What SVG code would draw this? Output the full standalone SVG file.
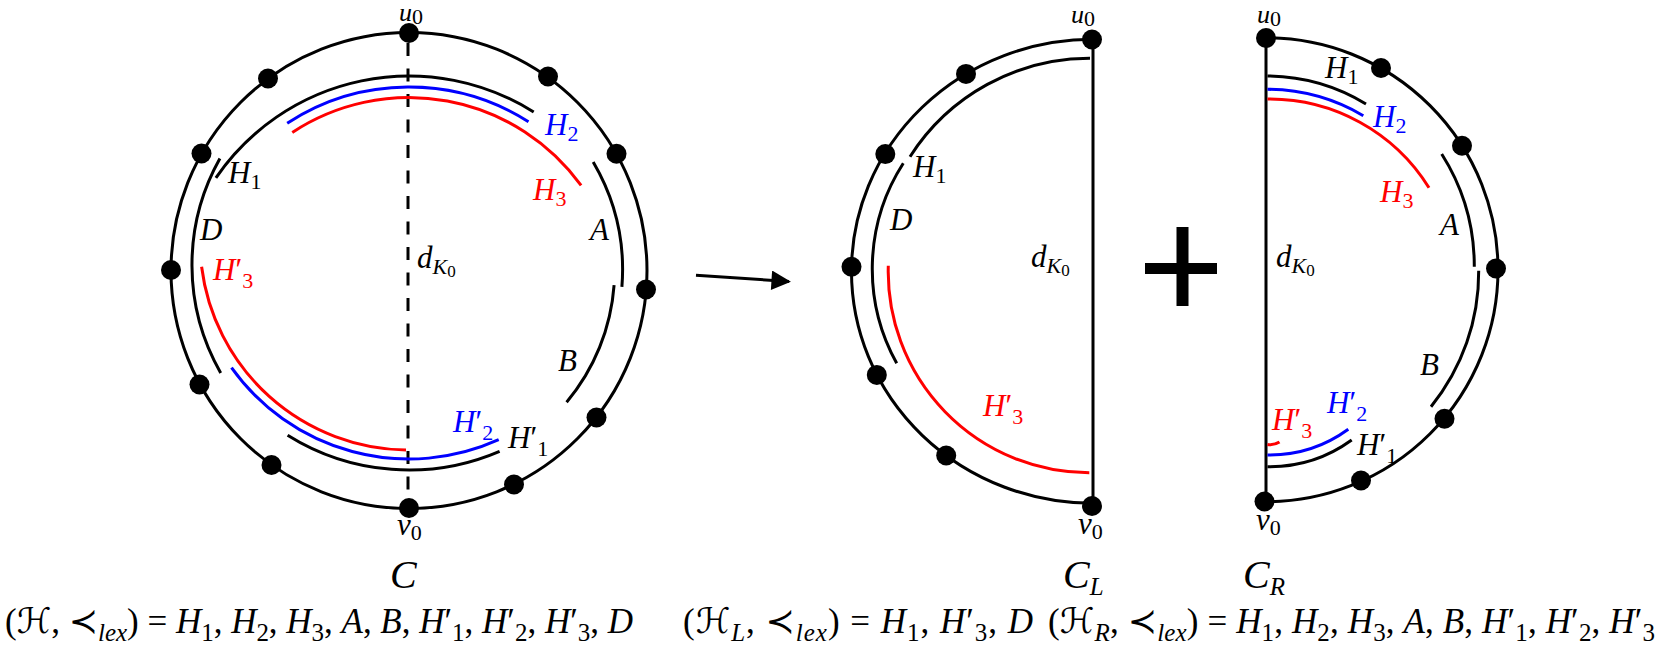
<svg xmlns="http://www.w3.org/2000/svg" width="1660" height="645" viewBox="0 0 1660 645">
<style>
.bg{fill:#ffffff}
.ln{fill:none;stroke:#000;stroke-width:3}
.rd{fill:none;stroke:#ff0000;stroke-width:3}
.bl{fill:none;stroke:#0000ff;stroke-width:3}
.dash{fill:none;stroke:#000;stroke-width:3;stroke-dasharray:13 12.5}
.dot{fill:#000}
.t{font-family:"Liberation Serif","DejaVu Serif","DejaVu Sans",serif;fill:#000}
.i{font-style:italic}
.lb{font-size:31px}
.lu{font-size:26px}
.sb{font-size:22px}
.ss{font-size:17px}
.fm{font-size:35px}
.fs{font-size:25px}
.big{font-size:40px}
.cr{fill:#ff0000}
.cb{fill:#0000ff}
</style>
<defs>
<marker id="ah" viewBox="0 0 10 10" refX="9" refY="5" markerWidth="9" markerHeight="6.5" orient="auto" markerUnits="strokeWidth">
<path d="M0 0 L10 5 L0 10 Z" fill="#000"/>
</marker>
</defs>
<rect class="bg" x="0" y="0" width="1660" height="645"/>

<g id="graph-C">
<circle class="ln" cx="409" cy="270.5" r="238"/>
<line class="dash" x1="408" y1="43" x2="408" y2="490"/>
<path class="ln" d="M215.9 177.8 A234 234 0 0 1 533.7 112"/>
<path class="bl" d="M287.2 123.2 A223 223 0 0 1 528.5 121.7"/>
<path class="rd" d="M292.3 132.4 A212.5 212.5 0 0 1 581.1 185.4"/>
<path class="ln" d="M593.2 161.9 A213.6 213.6 0 0 1 621.9 286.8"/>
<path class="ln" d="M614.1 285.1 A205.7 205.7 0 0 1 566.6 402.2"/>
<path class="ln" d="M219.9 158.5 A217 217 0 0 0 220.7 372.9"/>
<path class="rd" d="M406 450 A209 209 0 0 1 201.6 266.8"/>
<path class="bl" d="M231.5 367.6 A218 218 0 0 0 498.7 439.7"/>
<path class="ln" d="M287.6 435.2 A229 229 0 0 0 499.6 451.3"/>
<g id="C-dots">
<circle class="dot" cx="409" cy="33" r="10"/>
<circle class="dot" cx="548" cy="76.5" r="10"/>
<circle class="dot" cx="616.5" cy="153.8" r="10"/>
<circle class="dot" cx="646" cy="289.5" r="10"/>
<circle class="dot" cx="596.5" cy="417.5" r="10"/>
<circle class="dot" cx="514" cy="484.5" r="10"/>
<circle class="dot" cx="409" cy="508" r="10"/>
<circle class="dot" cx="271.5" cy="465" r="10"/>
<circle class="dot" cx="199.5" cy="384.5" r="10"/>
<circle class="dot" cx="171" cy="270" r="10"/>
<circle class="dot" cx="201.5" cy="153.5" r="10"/>
<circle class="dot" cx="268" cy="78.5" r="10"/>
</g>
<g id="C-labels">
<text class="t lu" x="399" y="21"><tspan class="i">u</tspan><tspan class="sb" dy="3">0</tspan></text>
<text class="t lb" x="228" y="183"><tspan class="i">H</tspan><tspan class="sb" dy="6">1</tspan></text>
<text class="t lb cb" x="545" y="135"><tspan class="i">H</tspan><tspan class="sb" dy="6">2</tspan></text>
<text class="t lb cr" x="533" y="200"><tspan class="i">H</tspan><tspan class="sb" dy="6">3</tspan></text>
<text class="t lb i" x="200" y="240">D</text>
<text class="t lb i" x="590" y="240">A</text>
<text class="t lb" x="417" y="268"><tspan class="i">d</tspan><tspan class="sb i" dy="6">K</tspan><tspan class="ss" dy="3">0</tspan></text>
<text class="t lb cr" x="213" y="280"><tspan class="i">H</tspan>′<tspan class="sb" dy="8">3</tspan></text>
<text class="t lb i" x="558" y="371">B</text>
<text class="t lb cb" x="453" y="432"><tspan class="i">H</tspan>′<tspan class="sb" dy="8">2</tspan></text>
<text class="t lb" x="508" y="448"><tspan class="i">H</tspan>′<tspan class="sb" dy="8">1</tspan></text>
<text class="t lb" x="397" y="535"><tspan class="i">v</tspan><tspan class="sb" dy="5">0</tspan></text>
<text class="t big i" x="390" y="588">C</text>
</g>
</g>

<g id="connectors">
<line class="ln" x1="696" y1="275.3" x2="789" y2="281.5" marker-end="url(#ah)"/>
</g>

<g id="graph-CL">
<path class="ln" d="M1093 39.3 A241.6 232 0 0 0 1093 503.3"/>
<line class="ln" x1="1093" y1="39" x2="1093" y2="506"/>
<path class="ln" d="M1090 58.3 A213 213 0 0 0 910 156.7"/>
<path class="ln" d="M903.3 163.3 A195 195 0 0 0 896.7 363.3"/>
<path class="rd" d="M1089.3 472.7 A201 201 0 0 1 888.3 265.7"/>
<g id="CL-dots">
<circle class="dot" cx="1092" cy="39.5" r="10"/>
<circle class="dot" cx="966" cy="73.9" r="10"/>
<circle class="dot" cx="885.3" cy="154.1" r="10"/>
<circle class="dot" cx="851.5" cy="266.7" r="10"/>
<circle class="dot" cx="876.8" cy="374.9" r="10"/>
<circle class="dot" cx="946.2" cy="455.5" r="10"/>
<circle class="dot" cx="1092" cy="506" r="10"/>
</g>
<g id="CL-labels">
<text class="t lu" x="1071" y="23"><tspan class="i">u</tspan><tspan class="sb" dy="3">0</tspan></text>
<text class="t lb" x="913" y="177"><tspan class="i">H</tspan><tspan class="sb" dy="6">1</tspan></text>
<text class="t lb i" x="890" y="230">D</text>
<text class="t lb" x="1031" y="267"><tspan class="i">d</tspan><tspan class="sb i" dy="6">K</tspan><tspan class="ss" dy="3">0</tspan></text>
<text class="t lb cr" x="983" y="416"><tspan class="i">H</tspan>′<tspan class="sb" dy="8">3</tspan></text>
<text class="t lb" x="1078" y="534"><tspan class="i">v</tspan><tspan class="sb" dy="5">0</tspan></text>
<text class="t big" x="1063" y="588"><tspan class="i">C</tspan><tspan class="fs i" dy="7">L</tspan></text>
</g>
</g>

<g id="plus">
<rect x="1145" y="263" width="72" height="11" fill="#000"/>
<rect x="1176.5" y="227" width="12" height="79" fill="#000"/>
</g>

<g id="graph-CR">
<path class="ln" d="M1266 37.7 A232 232 0 0 1 1266 501.7"/>
<line class="ln" x1="1266" y1="38" x2="1266" y2="502"/>
<path class="ln" d="M1267.5 76 A193 193 0 0 1 1366 104"/>
<path class="bl" d="M1267.5 89.3 A191 191 0 0 1 1363.3 115.7"/>
<path class="rd" d="M1267.5 99 A188 188 0 0 1 1429 187.7"/>
<path class="ln" d="M1441.7 154 A209 209 0 0 1 1474.3 266.7"/>
<path class="ln" d="M1478.7 270.7 A213.5 213.5 0 0 1 1431 406.7"/>
<path class="bl" d="M1267.5 455 A134 134 0 0 0 1348.3 429.3"/>
<path class="ln" d="M1267.5 466.7 A140 140 0 0 0 1351.7 440"/>
<path class="rd" d="M1267.5 444.5 Q1274 445.5 1279.5 442"/>
<g id="CR-dots">
<circle class="dot" cx="1266" cy="38" r="10"/>
<circle class="dot" cx="1381" cy="68" r="10"/>
<circle class="dot" cx="1462" cy="145.8" r="10"/>
<circle class="dot" cx="1496" cy="268.5" r="10"/>
<circle class="dot" cx="1444.5" cy="418.8" r="10"/>
<circle class="dot" cx="1361" cy="480.5" r="10"/>
<circle class="dot" cx="1264.5" cy="501.5" r="10"/>
</g>
<g id="CR-labels">
<text class="t lu" x="1257" y="23"><tspan class="i">u</tspan><tspan class="sb" dy="3">0</tspan></text>
<text class="t lb" x="1325" y="78"><tspan class="i">H</tspan><tspan class="sb" dy="6">1</tspan></text>
<text class="t lb cb" x="1373" y="127"><tspan class="i">H</tspan><tspan class="sb" dy="6">2</tspan></text>
<text class="t lb cr" x="1380" y="202"><tspan class="i">H</tspan><tspan class="sb" dy="6">3</tspan></text>
<text class="t lb i" x="1440" y="235">A</text>
<text class="t lb" x="1276" y="267"><tspan class="i">d</tspan><tspan class="sb i" dy="6">K</tspan><tspan class="ss" dy="3">0</tspan></text>
<text class="t lb i" x="1420" y="375">B</text>
<text class="t lb cb" x="1327" y="413"><tspan class="i">H</tspan>′<tspan class="sb" dy="8">2</tspan></text>
<text class="t lb cr" x="1272" y="430"><tspan class="i">H</tspan>′<tspan class="sb" dy="8">3</tspan></text>
<text class="t lb" x="1357" y="455"><tspan class="i">H</tspan>′<tspan class="sb" dy="8">1</tspan></text>
<text class="t lb" x="1256" y="530"><tspan class="i">v</tspan><tspan class="sb" dy="5">0</tspan></text>
<text class="t big" x="1243" y="588"><tspan class="i">C</tspan><tspan class="fs i" dy="7">R</tspan></text>
</g>
</g>

<g id="formulas">
<text class="t fm" x="5" y="633" textLength="628" lengthAdjust="spacing">(ℋ, ≺<tspan class="fs i" dy="8">lex</tspan><tspan dy="-8">) = </tspan><tspan class="i">H</tspan><tspan class="fs" dy="8">1</tspan><tspan dy="-8">, </tspan><tspan class="i">H</tspan><tspan class="fs" dy="8">2</tspan><tspan dy="-8">, </tspan><tspan class="i">H</tspan><tspan class="fs" dy="8">3</tspan><tspan dy="-8">, </tspan><tspan class="i">A</tspan>, <tspan class="i">B</tspan>, <tspan class="i">H</tspan>′<tspan class="fs" dy="8">1</tspan><tspan dy="-8">, </tspan><tspan class="i">H</tspan>′<tspan class="fs" dy="8">2</tspan><tspan dy="-8">, </tspan><tspan class="i">H</tspan>′<tspan class="fs" dy="8">3</tspan><tspan dy="-8">, </tspan><tspan class="i">D</tspan></text>
<text class="t fm" x="683" y="633" textLength="350" lengthAdjust="spacing">(ℋ<tspan class="fs i" dy="8">L</tspan><tspan dy="-8">, ≺</tspan><tspan class="fs i" dy="8">lex</tspan><tspan dy="-8">) = </tspan><tspan class="i">H</tspan><tspan class="fs" dy="8">1</tspan><tspan dy="-8">, </tspan><tspan class="i">H</tspan>′<tspan class="fs" dy="8">3</tspan><tspan dy="-8">, </tspan><tspan class="i">D</tspan></text>
<text class="t fm" x="1048" y="633" textLength="607" lengthAdjust="spacing">(ℋ<tspan class="fs i" dy="8">R</tspan><tspan dy="-8">, ≺</tspan><tspan class="fs i" dy="8">lex</tspan><tspan dy="-8">) = </tspan><tspan class="i">H</tspan><tspan class="fs" dy="8">1</tspan><tspan dy="-8">, </tspan><tspan class="i">H</tspan><tspan class="fs" dy="8">2</tspan><tspan dy="-8">, </tspan><tspan class="i">H</tspan><tspan class="fs" dy="8">3</tspan><tspan dy="-8">, </tspan><tspan class="i">A</tspan>, <tspan class="i">B</tspan>, <tspan class="i">H</tspan>′<tspan class="fs" dy="8">1</tspan><tspan dy="-8">, </tspan><tspan class="i">H</tspan>′<tspan class="fs" dy="8">2</tspan><tspan dy="-8">, </tspan><tspan class="i">H</tspan>′<tspan class="fs" dy="8">3</tspan></text>
</g>
</svg>
